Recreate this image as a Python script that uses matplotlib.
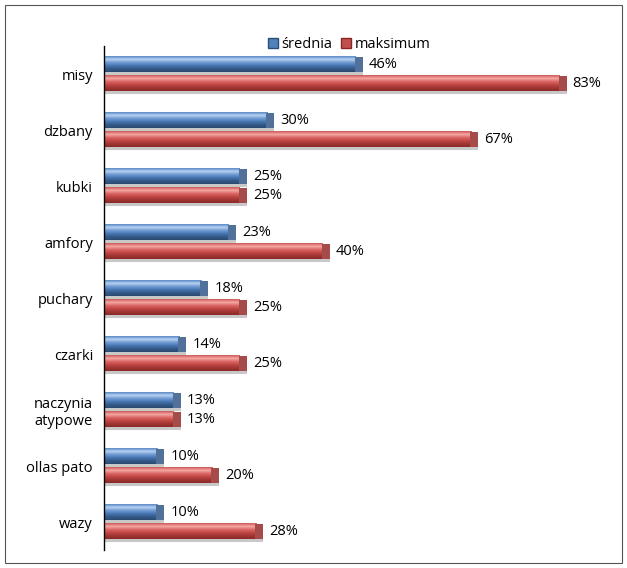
import numpy as np
import matplotlib.pyplot as plt
from matplotlib.patches import Rectangle
from matplotlib.colors import LinearSegmentedColormap
from matplotlib.lines import Line2D

# data
categories = ['misy', 'dzbany', 'kubki', 'amfory', 'puchary', 'czarki',
              'naczynia\natypowe', 'ollas pato', 'wazy']
srednia = [0.46, 0.30, 0.25, 0.23, 0.18, 0.14, 0.13, 0.10, 0.10]
maksimum = [0.83, 0.67, 0.25, 0.40, 0.25, 0.25, 0.13, 0.20, 0.28]

plt.rcParams['font.family'] = ['Open Sans', 'DejaVu Sans']

fig = plt.figure(figsize=(6.27, 5.68), dpi=100)
fig.patches.append(Rectangle((0.008, 0.008), 0.984, 0.984, transform=fig.transFigure,
                             fill=False, edgecolor='#555555', lw=0.8))
ax = fig.add_axes([0.166, 1 - 550 / 568, 496 / 627, 504 / 568])

# gradients for a cylinder look (bottom dark -> top light)
blue_cm = LinearSegmentedColormap.from_list('b', ['#2b4a70', '#34598a', '#4676b2', '#6f9bd2', '#b5d1f0', '#5b89c4'])
red_cm = LinearSegmentedColormap.from_list('r', ['#8a2a28', '#a23533', '#c04744', '#dc6865', '#f4a9a6', '#cc5855'])
grad = np.linspace(0, 1, 64).reshape(-1, 1)

y = np.arange(len(categories))
h = 0.28
off = 0.17
px = 0.01 / 5.51  # one pixel in data units


def draw_bars(vals, ypos, cmap, cap_color):
    for v, yc in zip(vals, ypos):
        ax.imshow(grad, cmap=cmap, aspect='auto', origin='lower',
                  extent=(0, v - 2 * px, yc + h / 2, yc - h / 2), zorder=2)
        # shadow under the bar
        ax.add_patch(Rectangle((0, yc + h / 2), v + 5 * px, 0.055, color='#c8c8c8', lw=0, zorder=1))
        # end cap
        ax.add_patch(Rectangle((v - 3 * px, yc - h / 2), 8 * px, h, color=cap_color, lw=0, zorder=3))
        ax.text(v + 11 * px, yc, f'{v * 100:.0f}%', va='center', ha='left', fontsize=10.5, color='black')


draw_bars(srednia, y - off, blue_cm, '#52719a')
draw_bars(maksimum, y + off, red_cm, '#a54b49')

ax.set_xlim(0, 0.9)
ax.set_ylim(len(categories) - 0.5, -0.5)
ax.set_yticks(y)
ax.set_yticklabels(categories, fontsize=10.5)
ax.tick_params(axis='y', length=0, pad=8)
ax.set_xticks([])
for s in ['top', 'right', 'bottom']:
    ax.spines[s].set_visible(False)
ax.spines['left'].set_linewidth(1.0)

# legend
handles = [Line2D([], [], marker='s', ls='', color='#4f81bd', markeredgecolor='#2c4d75', markersize=7),
           Line2D([], [], marker='s', ls='', color='#c0504d', markeredgecolor='#8b2523', markersize=7)]
fig.legend(handles, ['średnia', 'maksimum'], loc='center', bbox_to_anchor=(0.557, 0.921),
           ncol=2, frameon=False, fontsize=10.5, handlelength=0.7, handletextpad=0.2,
           columnspacing=0.6, borderpad=0)

fig.savefig('out.png', dpi=100)
